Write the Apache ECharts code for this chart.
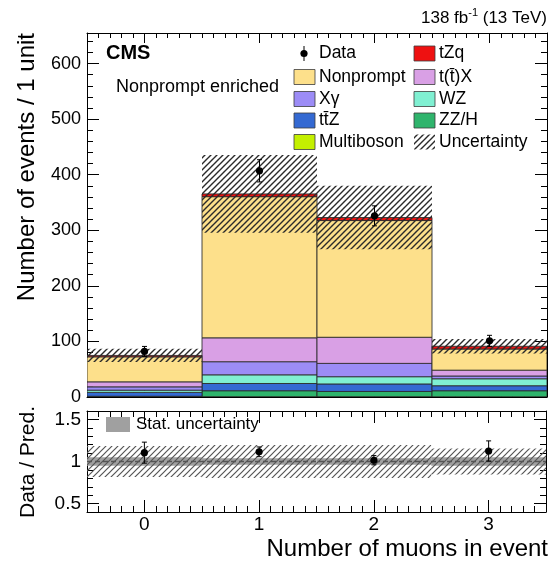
<!DOCTYPE html>
<html>
<head>
<meta charset="utf-8">
<script src="https://cdn.jsdelivr.net/npm/echarts@6/dist/echarts.min.js"></script>
<style>
  html, body { margin: 0; padding: 0; background: #fff; }
  #chart { width: 549px; height: 563px; }
</style>
</head>
<body>
<div id="chart"></div>
<script>
// ---- Event counts per bin (number of muons: 0, 1, 2, 3) ----
const bins = [0, 1, 2, 3];

// Predicted yields, listed from the bottom of the stack upwards
const multiboson = [0.3, 0.5, 0.5, 0.3];
const zzh        = [1, 10.8, 9.5, 11];
const ttz        = [7, 13, 13.5, 9];
const wz         = [4, 15.6, 13, 12.5];
const xgamma     = [6, 23.6, 24, 5];
const ttx        = [9, 43, 47, 10.5];
const nonprompt  = [45, 254, 210, 38];
const tzq        = [2.5, 5, 5.5, 5];

// Observed events and their statistical errors
const dataCounts = [82, 407, 326, 101];
const dataErr    = [9, 20, 18, 10];

// Total uncertainty on the prediction (events)
const totalUnc = [12, 70, 57, 13];

// Ratio panel: data / prediction with errors, and relative uncertainty bands
const ratioVals    = [1.105, 1.115, 1.015, 1.125];
const ratioErr     = [0.125, 0.058, 0.055, 0.12];
const ratioTotUnc  = [0.185, 0.195, 0.195, 0.155];
const ratioStatUnc = [0.05, 0.04, 0.04, 0.05];

// Axis ranges
const xRange = [-0.5, 3.5];
const yMainMax = 655;
const yRatioRange = [0.4, 1.6];

const FONT = "'Liberation Sans', Arial, Helvetica, sans-serif";

// Process definitions in stacking order (bottom first)
const processes = [
  { name: 'Multiboson', values: multiboson, color: '#c4f000' },
  { name: 'ZZ/H',       values: zzh,        color: '#2fb46c' },
  { name: 'ttZ',        values: ttz,        color: '#3469d2' },
  { name: 'WZ',         values: wz,         color: '#80f0d2' },
  { name: 'Xgamma',     values: xgamma,     color: '#9c8cf6' },
  { name: 'ttX',        values: ttx,        color: '#d9a0e5' },
  { name: 'Nonprompt',  values: nonprompt,  color: '#fde08b' },
  { name: 'tZq',        values: tzq,        color: '#ee1111' }
];

// Diagonal hatch pattern used for the uncertainty bands
function makeHatch(color, step, width) {
  const c = document.createElement('canvas');
  c.width = step; c.height = step;
  const ctx = c.getContext('2d');
  ctx.strokeStyle = color;
  ctx.lineWidth = width;
  ctx.beginPath();
  ctx.moveTo(-1, step + 1); ctx.lineTo(step + 1, -1);
  ctx.moveTo(-1, 1); ctx.lineTo(1, -1);
  ctx.moveTo(step - 1, step + 1); ctx.lineTo(step + 1, step - 1);
  ctx.stroke();
  return c;
}
const hatchMain = { image: makeHatch('#2a2a2a', 6, 1.4), repeat: 'repeat' };
const hatchRatio = { image: makeHatch('#555555', 6, 1.2), repeat: 'repeat' };

// One rectangle per bin spanning [x-0.5, x+0.5] x [lo, hi]
function binRect(style) {
  return function (params, api) {
    const x = api.value(0), lo = api.value(1), hi = api.value(2);
    const p0 = api.coord([x - 0.5, lo]);
    const p1 = api.coord([x + 0.5, hi]);
    return {
      type: 'rect',
      shape: { x: p0[0], y: p1[1], width: p1[0] - p0[0], height: p0[1] - p1[1] },
      style: style
    };
  };
}

// Point with vertical error bar
function errPoint(params, api) {
  const x = api.value(0), y = api.value(1), e = api.value(2);
  const c = api.coord([x, y]);
  const t = api.coord([x, y + e]);
  const b = api.coord([x, y - e]);
  const cap = 2.5;
  return {
    type: 'group',
    children: [
      { type: 'line', shape: { x1: c[0], y1: t[1], x2: c[0], y2: b[1] }, style: { stroke: '#000', lineWidth: 1 } },
      { type: 'line', shape: { x1: c[0] - cap, y1: t[1], x2: c[0] + cap, y2: t[1] }, style: { stroke: '#000', lineWidth: 1 } },
      { type: 'line', shape: { x1: c[0] - cap, y1: b[1], x2: c[0] + cap, y2: b[1] }, style: { stroke: '#000', lineWidth: 1 } },
      { type: 'circle', shape: { cx: c[0], cy: c[1], r: 3.6 }, style: { fill: '#000' } }
    ]
  };
}

// ---- Series ----
const series = [];
const cumulative = bins.map(() => 0);
processes.forEach((p, k) => {
  const rows = bins.map((b, i) => {
    const lo = cumulative[i];
    cumulative[i] += p.values[i];
    return [b, lo, cumulative[i]];
  });
  series.push({
    type: 'custom', name: p.name, xAxisIndex: 0, yAxisIndex: 0, clip: true, z: 2 + k * 0.01,
    renderItem: binRect({ fill: p.color, stroke: 'rgba(40,40,40,0.85)', lineWidth: 1 }),
    data: rows
  });
});
const predTotal = cumulative.slice();

series.push({
  type: 'custom', name: 'Uncertainty', xAxisIndex: 0, yAxisIndex: 0, clip: true, z: 3,
  renderItem: binRect({ fill: hatchMain, stroke: null }),
  data: bins.map((b, i) => [b, predTotal[i] - totalUnc[i], predTotal[i] + totalUnc[i]])
});
series.push({
  type: 'custom', name: 'Data', xAxisIndex: 0, yAxisIndex: 0, clip: true, z: 4,
  renderItem: errPoint,
  data: bins.map((b, i) => [b, dataCounts[i], dataErr[i]])
});

// Ratio panel
series.push({
  type: 'custom', name: 'Stat. uncertainty', xAxisIndex: 4, yAxisIndex: 4, clip: true, z: 2,
  renderItem: binRect({ fill: '#a0a0a0', stroke: null }),
  data: bins.map((b, i) => [b, 1 - ratioStatUnc[i], 1 + ratioStatUnc[i]])
});
series.push({
  type: 'custom', name: 'Total uncertainty', xAxisIndex: 4, yAxisIndex: 4, clip: true, z: 3,
  renderItem: binRect({ fill: hatchRatio, stroke: null }),
  data: bins.map((b, i) => [b, 1 - ratioTotUnc[i], 1 + ratioTotUnc[i]])
});
series.push({
  type: 'line', xAxisIndex: 4, yAxisIndex: 4, z: 3.5, symbol: 'none', silent: true,
  lineStyle: { color: '#555', width: 1.5, type: [5, 3] },
  data: [[xRange[0], 1], [xRange[1], 1]]
});
series.push({
  type: 'custom', name: 'Data / Pred.', xAxisIndex: 4, yAxisIndex: 4, clip: true, z: 4,
  renderItem: errPoint,
  data: bins.map((b, i) => [b, ratioVals[i], ratioErr[i]])
});

// ---- Axes ----
const black = { color: '#000', width: 1 };
const labelStyle = { color: '#000', fontFamily: FONT };

function xAxisSet(gridIndex, withLabels, minorLen, majorLen) {
  const base = { gridIndex, type: 'value', min: xRange[0], max: xRange[1], splitLine: { show: false } };
  return [
    Object.assign({}, base, { position: 'bottom', interval: 0.1,
      axisLine: { show: true, onZero: false, lineStyle: black },
      axisTick: { show: true, inside: true, length: minorLen, lineStyle: black },
      axisLabel: { show: false } }),
    Object.assign({}, base, { position: 'bottom', splitNumber: 4,
      axisLine: { show: false, onZero: false },
      axisTick: { show: true, inside: true, length: majorLen, lineStyle: black },
      axisLabel: withLabels ? Object.assign({ show: true, fontSize: 19, margin: 3,
        formatter: v => (Math.abs(v - Math.round(v)) < 1e-6 ? String(Math.round(v)) : '') }, labelStyle) : { show: false } }),
    Object.assign({}, base, { position: 'top', interval: 0.1,
      axisLine: { show: true, onZero: false, lineStyle: black },
      axisTick: { show: true, inside: true, length: minorLen, lineStyle: black },
      axisLabel: { show: false } }),
    Object.assign({}, base, { position: 'top', splitNumber: 4,
      axisLine: { show: false, onZero: false },
      axisTick: { show: true, inside: true, length: majorLen, lineStyle: black },
      axisLabel: { show: false } })
  ];
}

const yMainMajor = { type: 'value', min: 0, max: yMainMax, interval: 100, splitLine: { show: false } };
const yMainMinor = { type: 'value', min: 0, max: yMainMax, interval: 20, splitLine: { show: false } };
const yRatioMajor = { type: 'value', min: yRatioRange[0], max: yRatioRange[1], splitNumber: 2, splitLine: { show: false } };
const yRatioMinor = { type: 'value', min: yRatioRange[0], max: yRatioRange[1], interval: 0.1, splitLine: { show: false } };

function ySet(gridIndex, major, minor, labelFmt, fontSize) {
  return [
    Object.assign({}, major, { gridIndex, position: 'left',
      axisLine: { show: true, onZero: false, lineStyle: black },
      axisTick: { show: true, inside: true, length: 12, lineStyle: black },
      axisLabel: Object.assign({ show: true, fontSize: fontSize, margin: 6, formatter: labelFmt, showMaxLabel: true }, labelStyle) }),
    Object.assign({}, minor, { gridIndex, position: 'left',
      axisLine: { show: false, onZero: false },
      axisTick: { show: true, inside: true, length: 6, lineStyle: black },
      axisLabel: { show: false } }),
    Object.assign({}, major, { gridIndex, position: 'right',
      axisLine: { show: true, onZero: false, lineStyle: black },
      axisTick: { show: true, inside: true, length: 12, lineStyle: black },
      axisLabel: { show: false } }),
    Object.assign({}, minor, { gridIndex, position: 'right',
      axisLine: { show: false, onZero: false },
      axisTick: { show: true, inside: true, length: 6, lineStyle: black },
      axisLabel: { show: false } })
  ];
}

const mainFmt = v => (v % 100 === 0 ? String(v) : '');
const ratioFmt = v => {
  const k = Math.round(v * 2);
  if (Math.abs(v * 2 - k) > 1e-6) return '';
  return String(k / 2);
};

// ---- Legend and annotations ----
const legendRows = [53.5, 77, 99, 120.5, 142];
const col1Box = 294, col1Text = 319, col2Box = 414, col2Text = 439;
const textStyle = (txt, x, y, size, extra) => ({
  type: 'text', x: x, y: y, silent: true,
  style: Object.assign({ text: txt, fill: '#000', font: size + 'px ' + FONT, textVerticalAlign: 'middle' }, extra || {})
});
const swatch = (x, y, fill) => ({
  type: 'rect', silent: true,
  shape: { x: x, y: y - 7.5, width: 21, height: 15 },
  style: { fill: fill, stroke: 'rgba(60,60,60,0.8)', lineWidth: 1 }
});
const colorOf = n => processes.find(p => p.name === n).color;

const graphics = [
  // header
  { type: 'text', right: 2, top: 7, silent: true,
    style: { text: '{n|138 fb}{s|-1}{n| (13 TeV)}', fill: '#000',
      rich: { n: { fontSize: 17, fontFamily: FONT, lineHeight: 20, verticalAlign: 'bottom' },
              s: { fontSize: 11, fontFamily: FONT, lineHeight: 20, verticalAlign: 'top' } } } },
  textStyle('CMS', 106, 53.5, 'bold 20', {}),
  textStyle('Nonprompt enriched', 116, 87, 18, {}),

  // data marker
  { type: 'line', silent: true, shape: { x1: 304, y1: 46, x2: 304, y2: 61 }, style: { stroke: '#000', lineWidth: 1 } },
  { type: 'circle', silent: true, shape: { cx: 304, cy: legendRows[0], r: 3.6 }, style: { fill: '#000' } },
  textStyle('Data', col1Text, legendRows[0], 17.5),
  swatch(col1Box, legendRows[1], colorOf('Nonprompt')), textStyle('Nonprompt', col1Text, legendRows[1], 17.5),
  swatch(col1Box, legendRows[2], colorOf('Xgamma')),    textStyle('X\u03b3', col1Text, legendRows[2], 17.5),
  swatch(col1Box, legendRows[3], colorOf('ttZ')),       textStyle('tt\u0304Z', col1Text, legendRows[3], 17.5),
  swatch(col1Box, legendRows[4], colorOf('Multiboson')),textStyle('Multiboson', col1Text, legendRows[4], 17.5),

  swatch(col2Box, legendRows[0], colorOf('tZq')),       textStyle('tZq', col2Text, legendRows[0], 17.5),
  swatch(col2Box, legendRows[1], colorOf('ttX')),       textStyle('t(t\u0304)X', col2Text, legendRows[1], 17.5),
  swatch(col2Box, legendRows[2], colorOf('WZ')),        textStyle('WZ', col2Text, legendRows[2], 17.5),
  swatch(col2Box, legendRows[3], colorOf('ZZ/H')),      textStyle('ZZ/H', col2Text, legendRows[3], 17.5),
  { type: 'rect', silent: true, shape: { x: col2Box, y: legendRows[4] - 7.5, width: 21, height: 15 }, style: { fill: hatchMain } },
  textStyle('Uncertainty', col2Text, legendRows[4], 17.5),

  // ratio legend
  { type: 'rect', silent: true, shape: { x: 106, y: 417, width: 24, height: 15 }, style: { fill: '#a0a0a0' } },
  textStyle('Stat. uncertainty', 136, 424.5, 17),

  // axis titles
  { type: 'text', x: 27, y: 33, rotation: Math.PI / 2, silent: true,
    style: { text: 'Number of events / 1 unit', fill: '#000', font: '24px ' + FONT, textAlign: 'right', textVerticalAlign: 'middle' } },
  { type: 'text', x: 28, y: 462, rotation: Math.PI / 2, silent: true,
    style: { text: 'Data / Pred.', fill: '#000', font: '21px ' + FONT, textAlign: 'center', textVerticalAlign: 'middle' } },
  { type: 'text', x: 548, y: 549, silent: true,
    style: { text: 'Number of muons in event', fill: '#000', font: '24px ' + FONT, textAlign: 'right', textVerticalAlign: 'middle' } }
];

const chart = echarts.init(document.getElementById('chart'), null, { renderer: 'canvas' });
chart.setOption({
  animation: false,
  backgroundColor: '#fff',
  grid: [
    { left: 87, right: 2, top: 33, height: 364 },
    { left: 87, right: 2, top: 411, height: 101 }
  ],
  xAxis: [].concat(xAxisSet(0, false, 5, 10), xAxisSet(1, true, 6, 12)),
  yAxis: [].concat(ySet(0, yMainMajor, yMainMinor, mainFmt, 18), ySet(1, yRatioMajor, yRatioMinor, ratioFmt, 19)),
  series: series,
  graphic: graphics
});
</script>
</body>
</html>
